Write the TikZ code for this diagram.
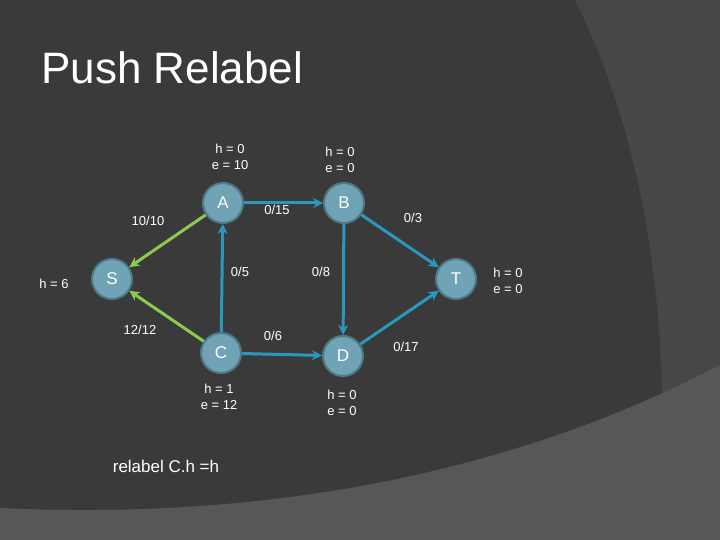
\documentclass[tikz,border=0pt]{standalone}
\usepackage{fontspec}
\setmainfont{Liberation Sans}
\usetikzlibrary{arrows.meta}
\begin{document}
\begin{tikzpicture}[x=1pt,y=-1pt,
  vtx/.style={circle,minimum size=40pt,inner sep=0pt,fill=vfill,draw=vborder,line width=2pt,text=white,font=\fontsize{17}{17}\selectfont},
  lbl/.style={text=white,font=\fontsize{13}{16}\selectfont,align=center},
  be/.style={draw=eblue,line width=3pt,-{Stealth[length=10pt,width=10pt]}},
  ge/.style={draw=egreen,line width=3pt,-{Stealth[length=10pt,width=10pt]}}]
\definecolor{bg}{HTML}{3A3A3A}
\definecolor{bg2}{HTML}{474747}
\definecolor{bg3}{HTML}{575757}
\definecolor{vfill}{HTML}{6FA3B5}
\definecolor{vborder}{HTML}{4E7A88}
\definecolor{eblue}{HTML}{2A98BE}
\definecolor{egreen}{HTML}{8CCB52}
\useasboundingbox (0,0) rectangle (720,540);
\fill[bg] (0,0) rectangle (720,540);
\fill[bg2] (575,0) .. controls (630,110) and (660,250) .. (662,400) -- (720,380) -- (720,0) -- cycle;
\fill[bg3] (0,508) .. controls (250,520) and (500,480) .. (720,365) -- (720,540) -- (0,540) -- cycle;
\node[text=white,font=\fontsize{44}{44}\selectfont,anchor=west] (title) at (38,68) {Push Relabel};
\node[vtx] (S) at (112,279) {S};
\node[vtx] (A) at (223,203) {A};
\node[vtx] (B) at (344,203) {B};
\node[vtx] (T) at (456,279) {T};
\node[vtx] (C) at (221,353) {C};
\node[vtx] (D) at (343,356) {D};
\draw[ge] (A) -- (S);
\draw[ge] (C) -- (S);
\draw[be] (C) -- (A);
\draw[be] (A) -- (B);
\draw[be] (B) -- (D);
\draw[be] (C) -- (D);
\draw[be] (B) -- (T);
\draw[be] (D) -- (T);
\node[lbl] (l1) at (148,221) {10/10};
\node[lbl] (l2) at (277,210) {0/15};
\node[lbl] (l3) at (413,218) {0/3};
\node[lbl] (l4) at (240,272) {0/5};
\node[lbl] (l5) at (321,272) {0/8};
\node[lbl] (l6) at (140,330) {12/12};
\node[lbl] (l7) at (273,336) {0/6};
\node[lbl] (l8) at (406,347) {0/17};
\node[lbl] (ha) at (230,157) {h = 0\\e = 10};
\node[lbl] (hb) at (340,160) {h = 0\\e = 0};
\node[lbl] (ht) at (508,281) {h = 0\\e = 0};
\node[lbl] (hs) at (54,284) {h = 6};
\node[lbl] (hc) at (219,397) {h = 1\\e = 12};
\node[lbl] (hd) at (342,403) {h = 0\\e = 0};
\node[text=white,font=\fontsize{17}{17}\selectfont] (rel) at (166,466) {relabel C.h =h};
\end{tikzpicture}
\end{document}
